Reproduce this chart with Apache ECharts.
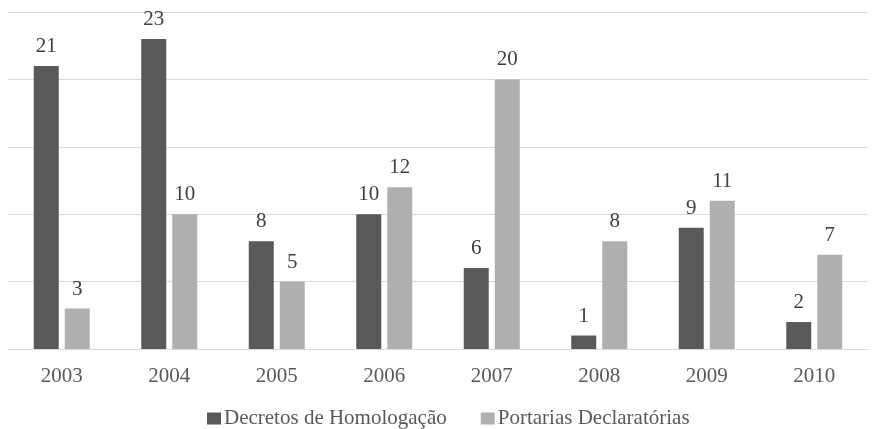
<!DOCTYPE html>
<html>
<head>
<meta charset="utf-8">
<script src="https://cdn.jsdelivr.net/npm/echarts@6/dist/echarts.min.js"></script>
<style>
  html, body { margin: 0; padding: 0; background: #fff; }
  #chart { width: 875px; height: 429px; }
</style>
</head>
<body>
<div id="chart"></div>
<script>
// anos
const years = ['2003', '2004', '2005', '2006', '2007', '2008', '2009', '2010'];
const decretos = [21, 23, 8, 10, 6, 1, 9, 2];
const portarias = [3, 10, 5, 12, 20, 8, 11, 7];

const chart = echarts.init(document.getElementById('chart'));
const font = '"Liberation Serif", "Times New Roman", serif';

chart.setOption({
  animation: false,
  textStyle: { fontFamily: font },
  grid: { left: 8, right: 7, top: 12, bottom: 80 },
  legend: {
    bottom: 0,
    left: 207,
    padding: 0,
    itemWidth: 14,
    itemHeight: 12,
    itemGap: 34,
    icon: 'rect',
    textStyle: { fontFamily: font, fontSize: 21, color: '#595959', padding: [0, 0, 0, -2] },
    data: ['Decretos de Homologação', 'Portarias Declaratórias']
  },
  xAxis: {
    type: 'category',
    data: years,
    axisTick: { show: false },
    axisLine: { lineStyle: { color: '#d9d9d9', width: 1 } },
    axisLabel: { fontFamily: font, fontSize: 21, color: '#595959', margin: 17 }
  },
  yAxis: {
    type: 'value',
    min: 0,
    max: 25,
    interval: 5,
    axisLabel: { show: false },
    axisLine: { show: false },
    axisTick: { show: false },
    splitLine: { lineStyle: { color: '#d9d9d9', width: 1 } }
  },
  series: [
    {
      name: 'Decretos de Homologação',
      type: 'bar',
      data: decretos,
      barWidth: 25,
      barGap: '24%',
      itemStyle: { color: '#595959' },
      label: { show: true, position: 'top', distance: 9, fontFamily: font, fontSize: 21, color: '#404040' }
    },
    {
      name: 'Portarias Declaratórias',
      type: 'bar',
      data: portarias,
      barWidth: 25,
      itemStyle: { color: '#afafaf' },
      label: { show: true, position: 'top', distance: 9, fontFamily: font, fontSize: 21, color: '#404040' }
    }
  ]
});
</script>
</body>
</html>
